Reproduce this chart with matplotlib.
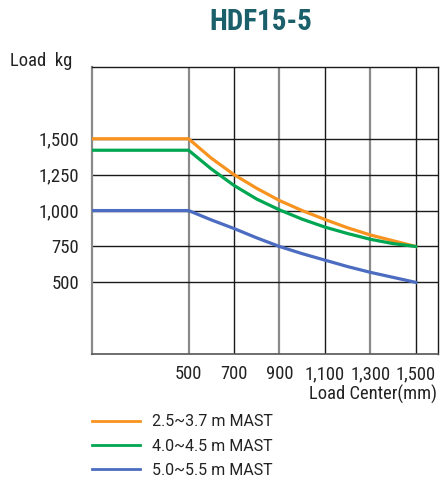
import matplotlib
matplotlib.use("Agg")
import matplotlib.pyplot as plt

# Load center (mm) and rated load (kg)
centers = [75, 500, 600, 700, 800, 900, 1000, 1100, 1200, 1300, 1400, 1500]
mast_short = [1500, 1500, 1365, 1250, 1155, 1070, 1000, 938, 880, 830, 790, 750]
mast_mid = [1420, 1420, 1290, 1175, 1080, 1005, 940, 885, 840, 800, 770, 750]
mast_long = [1000, 1000, 935, 875, 810, 750, 700, 655, 610, 570, 535, 500]
labels = ["2.5~3.7 m MAST", "4.0~4.5 m MAST", "5.0~5.5 m MAST"]
colors = ["#f7931e", "#00a651", "#4b6cc1"]

x_ticks = [500, 700, 900, 1100, 1300, 1500]
y_ticks = [500, 750, 1000, 1250, 1500]

narrow = ["Roboto Condensed", "Archivo Narrow", "Fira Sans Condensed",
          "Encode Sans Condensed", "Barlow Semi Condensed", "DejaVu Sans"]

fig = plt.figure(figsize=(4.4, 4.78), dpi=100)
ax = fig.add_axes([0.209, 0.259, 0.786, 0.601])
ax.set_xlim(75, 1597)
ax.set_ylim(0, 2000)

# grid: alternating grey / black verticals, black horizontals
for i, xv in enumerate(x_ticks):
    ax.axvline(xv, color="#8a8a8a" if i % 2 == 0 else "#1a1a1a",
               lw=1.6 if i % 2 == 0 else 1.0, zorder=1)
for yv in y_ticks:
    ax.axhline(yv, color="#1a1a1a", lw=1.0, zorder=1)

for ys, c, lab in zip([mast_short, mast_mid, mast_long], colors, labels):
    ax.plot(centers, ys, color=c, lw=2.3, label=lab, zorder=3)

ax.set_xticks(x_ticks)
ax.set_xticklabels([f"{v:,}" for v in x_ticks], fontfamily=narrow, fontsize=13.3)
ax.set_yticks(y_ticks)
ax.set_yticklabels([f"{v:,}" for v in y_ticks], fontfamily=narrow, fontsize=13.5)
ax.tick_params(length=0, colors="#222222")
ax.tick_params(axis="x", pad=8)
ax.tick_params(axis="y", pad=9)

ax.spines["left"].set_color("#8a8a8a")
ax.spines["left"].set_linewidth(1.6)
ax.spines["bottom"].set_color("#555555")
ax.spines["bottom"].set_linewidth(1.2)
for s in ["top", "right"]:
    ax.spines[s].set_color("#1a1a1a")
    ax.spines[s].set_linewidth(1.0)

fig.text(0.592, 0.953, "HDF15-5", ha="center", va="center", fontsize=21,
         fontweight="bold", color="#1a5f6a", fontfamily=narrow)
fig.text(0.023, 0.872, "Load  kg", ha="left", va="center", fontsize=13.3,
         color="#222222", fontfamily=narrow)
fig.text(0.993, 0.174, "Load Center(mm)", ha="right", va="center", fontsize=13.3,
         color="#222222", fontfamily=narrow)

leg = fig.legend(loc="upper left", bbox_to_anchor=(0.209, 0.133), frameon=False,
                 handlelength=3.0, handletextpad=0.75, labelspacing=0.58,
                 borderpad=0, borderaxespad=0,
                 prop={"family": ["Roboto", "DejaVu Sans"], "size": 11.5})
for t in leg.get_texts():
    t.set_color("#222222")
for h in leg.get_lines():
    h.set_linewidth(2.0)

fig.savefig("out.png", dpi=100)
